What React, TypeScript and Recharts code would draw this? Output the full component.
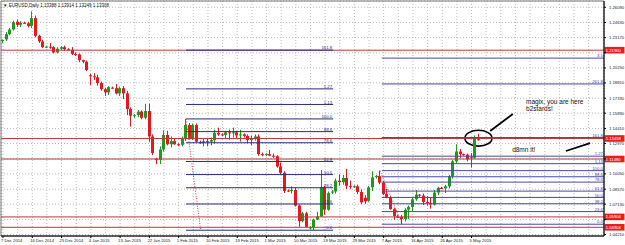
import {
  ComposedChart,
  Bar,
  XAxis,
  YAxis,
  CartesianGrid,
  ReferenceLine,
  ReferenceArea,
} from 'recharts';

const FONT = '"Liberation Sans", Arial, sans-serif';

// EURUSD daily bars, 7 Dec 2014 .. 7 May 2015 (Sunday bars included)
const OPEN = [
  1.2285, 1.23, 1.235, 1.2395, 1.247, 1.244, 1.246, 1.2455, 1.243, 1.2505,
  1.2335, 1.228, 1.2225, 1.223, 1.2225, 1.2175, 1.221, 1.2225, 1.2205, 1.22,
  1.216, 1.2155, 1.21, 1.2085, 1.1955, 1.1945, 1.1935, 1.188, 1.182, 1.179,
  1.1835, 1.183, 1.178, 1.183, 1.178, 1.163, 1.156, 1.157, 1.1605, 1.1545,
  1.161, 1.1365, 1.115, 1.114, 1.124, 1.138, 1.129, 1.132, 1.129, 1.1285,
  1.134, 1.1475, 1.1345, 1.1475, 1.131, 1.1305, 1.132, 1.1315, 1.133, 1.14,
  1.1385, 1.138, 1.1405, 1.1395, 1.1405, 1.1375, 1.1385, 1.137, 1.133, 1.135,
  1.1365, 1.1195, 1.119, 1.1195, 1.118, 1.1175, 1.1075, 1.1015, 1.0845, 1.084,
  1.085, 1.07, 1.055, 1.0625, 1.048, 1.049, 1.0565, 1.0595, 1.0875, 1.066,
  1.0825, 1.0835, 1.094, 1.0925, 1.0965, 1.089, 1.088, 1.0885, 1.083, 1.0775,
  1.0745, 1.0875, 1.098, 1.0985, 1.092, 1.081, 1.078, 1.0665, 1.0595, 1.059,
  1.057, 1.066, 1.0685, 1.076, 1.0805, 1.0795, 1.0735, 1.0725, 1.071, 1.0825,
  1.087, 1.0865, 1.0885, 1.098, 1.1125, 1.122, 1.1195, 1.119, 1.117, 1.116,
  1.13388,
];
const HIGH = [
  1.23, 1.237, 1.241, 1.248, 1.249, 1.2475, 1.247, 1.247, 1.257, 1.253,
  1.2345, 1.2295, 1.224, 1.2265, 1.2235, 1.2225, 1.2235, 1.224, 1.2215, 1.2225,
  1.2175, 1.2165, 1.2105, 1.2095, 1.197, 1.1975, 1.196, 1.1895, 1.1835, 1.185,
  1.1845, 1.187, 1.1845, 1.185, 1.1805, 1.1645, 1.158, 1.162, 1.1615, 1.168,
  1.168, 1.1385, 1.116, 1.127, 1.1425, 1.142, 1.1365, 1.135, 1.13, 1.1365,
  1.1535, 1.1495, 1.149, 1.149, 1.1325, 1.135, 1.1345, 1.1355, 1.143, 1.145,
  1.1395, 1.142, 1.143, 1.145, 1.142, 1.143, 1.1395, 1.1385, 1.1375, 1.1385,
  1.1385, 1.121, 1.1205, 1.1235, 1.12, 1.1185, 1.1115, 1.103, 1.0855, 1.0885,
  1.087, 1.071, 1.064, 1.064, 1.05, 1.0575, 1.064, 1.1043, 1.089, 1.0835,
  1.085, 1.096, 1.1, 1.0995, 1.1052, 1.094, 1.0895, 1.09, 1.0855, 1.08,
  1.089, 1.103, 1.0995, 1.1036, 1.0935, 1.086, 1.0795, 1.068, 1.061, 1.061,
  1.0675, 1.07, 1.0775, 1.085, 1.081, 1.0815, 1.079, 1.078, 1.085, 1.088,
  1.088, 1.09, 1.0995, 1.114, 1.129, 1.1245, 1.12, 1.12, 1.1205, 1.1375,
  1.13914,
];
const LOW = [
  1.2265, 1.2285, 1.234, 1.2385, 1.242, 1.242, 1.245, 1.2415, 1.241, 1.232,
  1.2265, 1.2215, 1.2215, 1.221, 1.2165, 1.2165, 1.2195, 1.219, 1.2195, 1.215,
  1.214, 1.208, 1.207, 1.1995, 1.186, 1.191, 1.1855, 1.1805, 1.1755, 1.1765,
  1.1825, 1.177, 1.1755, 1.1725, 1.157, 1.146, 1.1545, 1.155, 1.153, 1.153,
  1.1315, 1.1185, 1.1098, 1.11, 1.122, 1.128, 1.126, 1.1285, 1.127, 1.127,
  1.132, 1.1335, 1.133, 1.131, 1.1295, 1.127, 1.127, 1.128, 1.1295, 1.137,
  1.137, 1.1345, 1.1335, 1.1355, 1.135, 1.1315, 1.1355, 1.13, 1.128, 1.1325,
  1.118, 1.1175, 1.1175, 1.1175, 1.116, 1.1065, 1.1, 1.082, 1.083, 1.0815,
  1.069, 1.0495, 1.054, 1.049, 1.047, 1.0462, 1.056, 1.059, 1.0612, 1.065,
  1.081, 1.0815, 1.089, 1.09, 1.086, 1.086, 1.087, 1.081, 1.0715, 1.0715,
  1.0735, 1.084, 1.096, 1.0905, 1.08, 1.077, 1.066, 1.0565, 1.058, 1.052,
  1.0545, 1.057, 1.0645, 1.0745, 1.078, 1.0705, 1.07, 1.067, 1.07, 1.08,
  1.086, 1.082, 1.0865, 1.096, 1.1105, 1.116, 1.118, 1.1125, 1.1065, 1.115,
  1.13249,
];
const CLOSE = [
  1.2295, 1.235, 1.2395, 1.2465, 1.244, 1.246, 1.2455, 1.243, 1.2505, 1.2335,
  1.228, 1.2225, 1.223, 1.2225, 1.2175, 1.221, 1.2225, 1.2205, 1.22, 1.216,
  1.2155, 1.21, 1.2085, 1.2005, 1.1945, 1.1935, 1.188, 1.182, 1.179, 1.184,
  1.183, 1.178, 1.183, 1.178, 1.163, 1.1565, 1.157, 1.1605, 1.1545, 1.161,
  1.1365, 1.1205, 1.114, 1.124, 1.138, 1.129, 1.132, 1.129, 1.1285, 1.134,
  1.1475, 1.1345, 1.1475, 1.1315, 1.1305, 1.132, 1.1315, 1.133, 1.14, 1.1385,
  1.138, 1.1405, 1.1395, 1.1405, 1.1375, 1.1385, 1.137, 1.133, 1.135, 1.1365,
  1.1195, 1.1185, 1.1195, 1.118, 1.1175, 1.1075, 1.1015, 1.084, 1.084, 1.085,
  1.07, 1.055, 1.0625, 1.0495, 1.049, 1.0565, 1.0595, 1.0875, 1.066, 1.082,
  1.0835, 1.094, 1.0925, 1.0965, 1.089, 1.0885, 1.0885, 1.083, 1.073, 1.074,
  1.0875, 1.097, 1.0985, 1.092, 1.081, 1.078, 1.0665, 1.06, 1.059, 1.057,
  1.066, 1.0685, 1.076, 1.0805, 1.0795, 1.0735, 1.0725, 1.071, 1.0825, 1.087,
  1.0865, 1.0885, 1.098, 1.1125, 1.122, 1.1195, 1.119, 1.1145, 1.116, 1.1345,
  1.13308,
];

// time scale labels, one every 8 bars
const DATE_LABELS = [
  '7 Dec 2014', '16 Dec 2014', '25 Dec 2014', '4 Jan 2015', '13 Jan 2015',
  '22 Jan 2015', '1 Feb 2015', '10 Feb 2015', '19 Feb 2015', '1 Mar 2015',
  '10 Mar 2015', '19 Mar 2015', '29 Mar 2015', '7 Apr 2015', '16 Apr 2015',
  '26 Apr 2015', '5 May 2015',
];
const LABEL_STEP = 8;

const PRICE_TICKS = [
  1.2609, 1.2463, 1.2317, 1.2171, 1.2025, 1.1881, 1.1733, 1.1589,
  1.1441, 1.1297, 1.1149, 1.1005, 1.0857, 1.0713, 1.0565, 1.0421,
];

// horizontal lines drawn on the chart
const HLINES = [1.2196, 1.13458, 1.1148, 1.05904, 1.04904];

// fibonacci tools
const FIB_RATIOS = [0, 23.6, 38.2, 50, 61.8, 78.6, 88.6, 100, 113, 127, 161.8];
const FIB_NAMES = ['0.0', '23.6', '38.2', '50.0', '61.8', '78.6', '88.6', '100.0', '1.13', '1.27', '161.8'];
const FIB2_EXTRA_RATIOS = [261.8, 310];
const FIB2_EXTRA_NAMES = ['261.8', '3.1'];

const X_MIN = -0.546;
const X_MAX = 164.2;
const Y_MIN = 1.04066;
const Y_MAX = 1.26697;

const FIB1 = { from: 50, to: 90.2, high: 1.1534, low: 1.0462, lowBar: 54 };
const FIB2 = { from: 103.5, to: X_MAX, high: 1.1036, low: 1.052, lowBar: 109 };

const rows = OPEN.map((o, i) => ({
  i,
  o,
  h: HIGH[i],
  l: LOW[i],
  c: CLOSE[i],
  range: [LOW[i], HIGH[i]],
}));

const GRID_TICKS = Array.from({ length: 42 }, (_, k) => k * 4);

const UP = '#1f9a1f';
const DOWN = '#e3191b';
const RED_LINE = '#b8383a';
const FIB1_COLOR = '#2b2b78';
const FIB2_COLOR = '#4848a8';

function Candle(props: any) {
  const { x, y, width, height, payload } = props;
  const { o, h, l, c } = payload;
  const top = Math.min(y, y + height);
  const span = Math.abs(height);
  const ppu = h > l ? span / (h - l) : 0;
  const cx = Math.floor(x + width / 2) + 0.5;
  const bodyTop = top + (h - Math.max(o, c)) * ppu;
  const bodyH = Math.max(1, Math.abs(o - c) * ppu);
  const color = c > o ? UP : c < o ? DOWN : '#333';
  return (
    <g>
      <line x1={cx} x2={cx} y1={top} y2={top + span} stroke={color} strokeWidth={1} />
      <rect x={cx - 1.5} y={bodyTop} width={3} height={bodyH} fill={color} />
    </g>
  );
}

function DateTick(props: any) {
  const { x, y, payload } = props;
  const v = payload.value;
  const k = v / LABEL_STEP;
  if (v % LABEL_STEP !== 0 || k >= DATE_LABELS.length) return <g />;
  return (
    <g>
      <line x1={x} x2={x} y1={y} y2={y + 2} stroke="#000" />
      <text x={x - 2} y={y + 5.8} fontSize={4.2} fill="#222" fontFamily={FONT}>
        {DATE_LABELS[k]}
      </text>
    </g>
  );
}

// price labels hidden behind the red price boxes are not drawn
function PriceTick(props: any) {
  const { x, y, payload } = props;
  const covered = HLINES.some((h) => Math.abs(h - payload.value) < 0.0045);
  if (covered) return <g />;
  return (
    <text x={x + 1} y={y} dy={1.5} fontSize={4.2} fill="#222" fontFamily={FONT}>
      {payload.value.toFixed(5)}
    </text>
  );
}

function priceBox(text: string) {
  return (p: any) => {
    const vb = p.viewBox;
    const left = vb.x + vb.width + 0.5;
    return (
      <g>
        <rect x={left} y={vb.y - 3.3} width={20} height={6.6} fill="#e4201c" />
        <text x={left + 1.3} y={vb.y} dy={1.5} fontSize={4.2} fill="#fff" fontFamily={FONT}>
          {text}
        </text>
      </g>
    );
  };
}

function fibLabel(text: string, color: string) {
  return (p: any) => {
    const vb = p.viewBox;
    return (
      <text x={vb.x + vb.width - 1} y={vb.y - 0.8} fontSize={4.3} fill={color} textAnchor="end" fontFamily={FONT}>
        {text}
      </text>
    );
  };
}

function fibLevels(fib: typeof FIB1, ratios: number[], names: string[], color: string, key: string) {
  return ratios.map((r, n) => {
    const price = fib.low + ((fib.high - fib.low) * r) / 100;
    return (
      <ReferenceLine
        key={`${key}-${n}`}
        segment={[{ x: fib.from, y: price }, { x: fib.to, y: price }]}
        stroke={color}
        strokeWidth={1}
        ifOverflow="visible"
        label={fibLabel(names[n], color)}
      />
    );
  });
}

function note(text: string, bar: number, price: number, size: number) {
  return (
    <ReferenceArea
      x1={bar}
      x2={bar + 1}
      y1={price}
      y2={price + 0.001}
      ifOverflow="visible"
      shape={(p: any) => (
        <text x={p.x} y={p.y + p.height} fontSize={size} fill="#111" fontFamily={FONT}>
          {text}
        </text>
      )}
    />
  );
}

export default function App() {
  return (
    <div style={{ position: 'absolute', left: 0, top: 0, width: 625, height: 245, background: '#fff' }}>
      <ComposedChart width={625} height={245} data={rows} margin={{ top: 1, right: 0, bottom: 0, left: 1 }}>
        <CartesianGrid stroke="#bcbcbc" strokeDasharray="1 2" />
        <XAxis
          type="number"
          dataKey="i"
          domain={[X_MIN, X_MAX]}
          ticks={GRID_TICKS}
          interval={0}
          allowDataOverflow
          height={9}
          tickSize={0}
          tickMargin={0}
          tickLine={false}
          axisLine={{ stroke: '#000' }}
          tick={<DateTick />}
        />
        <YAxis
          orientation="right"
          type="number"
          domain={[Y_MIN, Y_MAX]}
          ticks={PRICE_TICKS}
          interval={0}
          allowDataOverflow
          width={21}
          tickSize={2}
          tickLine={{ stroke: '#000' }}
          axisLine={{ stroke: '#000' }}
          tick={<PriceTick />}
        />
        <ReferenceArea x1={X_MIN} x2={X_MAX} y1={Y_MIN} y2={Y_MAX} fill="none" stroke="#777" />

        {HLINES.map((v) => (
          <ReferenceLine key={v} y={v} stroke={RED_LINE} strokeWidth={1} label={priceBox(v.toFixed(5))} />
        ))}

        {fibLevels(FIB1, FIB_RATIOS, FIB_NAMES, FIB1_COLOR, 'f1')}
        {fibLevels(FIB2, [...FIB_RATIOS, ...FIB2_EXTRA_RATIOS], [...FIB_NAMES, ...FIB2_EXTRA_NAMES], FIB2_COLOR, 'f2')}
        <ReferenceLine
          segment={[{ x: FIB1.from, y: FIB1.high }, { x: FIB1.lowBar, y: FIB1.low }]}
          stroke="#cc3a3a"
          strokeDasharray="1 1.5"
          ifOverflow="visible"
        />
        <ReferenceLine
          segment={[{ x: FIB2.from - 0.5, y: FIB2.high }, { x: FIB2.lowBar, y: FIB2.low }]}
          stroke="#cc3a3a"
          strokeDasharray="1 1.5"
          ifOverflow="visible"
        />

        <Bar dataKey="range" barSize={3} shape={<Candle />} isAnimationActive={false} />

        <ReferenceArea
          x1={126.2}
          x2={133.6}
          y1={1.1272}
          y2={1.1425}
          ifOverflow="visible"
          shape={(p: any) => (
            <ellipse
              cx={p.x + p.width / 2}
              cy={p.y + p.height / 2}
              rx={p.width / 2}
              ry={p.height / 2}
              fill="none"
              stroke="#000"
              strokeWidth={1.6}
            />
          )}
        />
        <ReferenceLine
          segment={[{ x: 133.1, y: 1.1417 }, { x: 139.3, y: 1.1581 }]}
          stroke="#000"
          strokeWidth={1.8}
          ifOverflow="visible"
        />
        <ReferenceLine
          segment={[{ x: 153.8, y: 1.1225 }, { x: 160.4, y: 1.1302 }]}
          stroke="#000"
          strokeWidth={1.8}
          ifOverflow="visible"
        />
        {note('magix, you are here', 142.9, 1.1678, 6.5)}
        {note('b2stards!', 142.9, 1.161, 6.5)}
        {note('d8mn it!', 139.1, 1.122, 6.5)}

        <text x={3} y={6.5} fontSize={4.5} fill="#111" fontFamily={FONT}>
          {'\u25BC EURUSD,Daily  1.13388 1.13914 1.13249 1.13308'}
        </text>
      </ComposedChart>
    </div>
  );
}
